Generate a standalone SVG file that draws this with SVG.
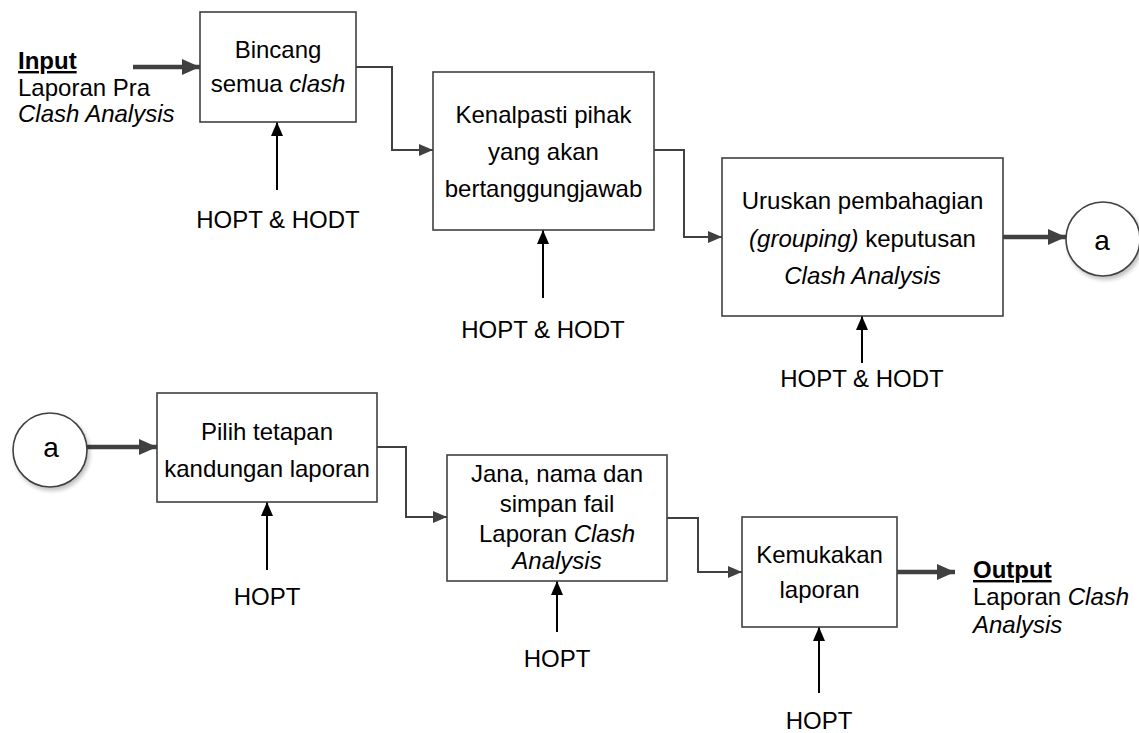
<svg xmlns="http://www.w3.org/2000/svg" width="1139" height="733" viewBox="0 0 1139 733">
  <style>
    .box { fill: #ffffff; stroke: #404040; stroke-width: 1.6; }
    .conn { fill: none; stroke: #404040; stroke-width: 2; }
    .thick { fill: none; stroke: #404040; stroke-width: 4.5; }
    .ctrl { fill: none; stroke: #000000; stroke-width: 2; }
    .lbl { font-family: "Liberation Sans", Arial, sans-serif; font-size: 24px; fill: #000000; }
    .mid { text-anchor: middle; }
    .it { font-style: italic; }
    .hd { font-weight: bold; text-decoration: underline; }
    .conn-node { fill: #ffffff; stroke: #404040; stroke-width: 1.6; }
  </style>
  <defs>
    <marker id="arrThick" markerUnits="userSpaceOnUse" markerWidth="18" markerHeight="16" refX="18" refY="8" orient="auto">
      <path d="M0,0 L18,8 L0,16 z" fill="#404040"/>
    </marker>
    <marker id="arrThin" markerUnits="userSpaceOnUse" markerWidth="14" markerHeight="12" refX="14" refY="6" orient="auto">
      <path d="M0,0 L14,6 L0,12 z" fill="#404040"/>
    </marker>
    <marker id="arrCtrl" markerUnits="userSpaceOnUse" markerWidth="14" markerHeight="12" refX="14" refY="6" orient="auto">
      <path d="M0,0 L14,6 L0,12 z" fill="#000000"/>
    </marker>
    <filter id="shadow" x="-30%" y="-30%" width="160%" height="160%">
      <feGaussianBlur in="SourceAlpha" stdDeviation="2"/>
      <feOffset dx="2" dy="3" result="b"/>
      <feComponentTransfer><feFuncA type="linear" slope="0.25"/></feComponentTransfer>
      <feMerge><feMergeNode/><feMergeNode in="SourceGraphic"/></feMerge>
    </filter>
  </defs>

  <!-- connectors -->
  <g id="connectors">
    <path class="thick" d="M133,67 H200" marker-end="url(#arrThick)"/>
    <path class="conn" d="M356,67 H392 V150 H433" marker-end="url(#arrThin)"/>
    <path class="conn" d="M654,150 H684 V237 H722" marker-end="url(#arrThin)"/>
    <path class="thick" d="M1003,237 H1066" marker-end="url(#arrThick)"/>
    <path class="thick" d="M87,447 H157" marker-end="url(#arrThick)"/>
    <path class="conn" d="M377,447 H406 V517 H447" marker-end="url(#arrThin)"/>
    <path class="conn" d="M667,518 H698 V572 H742" marker-end="url(#arrThin)"/>
    <path class="thick" d="M897,572 H955" marker-end="url(#arrThick)"/>
    <!-- controls from below -->
    <path class="ctrl" d="M277,190 V122" marker-end="url(#arrCtrl)"/>
    <path class="ctrl" d="M543,298 V230" marker-end="url(#arrCtrl)"/>
    <path class="ctrl" d="M862,363 V316" marker-end="url(#arrCtrl)"/>
    <path class="ctrl" d="M267,570 V502" marker-end="url(#arrCtrl)"/>
    <path class="ctrl" d="M557,632 V581" marker-end="url(#arrCtrl)"/>
    <path class="ctrl" d="M819,693 V627" marker-end="url(#arrCtrl)"/>
  </g>

  <!-- input label -->
  <g id="input">
    <text class="lbl hd" x="18" y="69">Input</text>
    <text class="lbl" x="18" y="96">Laporan Pra</text>
    <text class="lbl it" x="18" y="122">Clash Analysis</text>
  </g>

  <g id="bincang">
    <rect class="box" x="200" y="12" width="156" height="110"/>
    <text class="lbl mid" x="278" y="58">Bincang</text>
    <text class="lbl mid" x="278" y="92">semua <tspan class="it">clash</tspan></text>
    <text class="lbl mid" x="278" y="228">HOPT &amp; HODT</text>
  </g>

  <g id="kenalpasti">
    <rect class="box" x="433" y="72" width="221" height="158"/>
    <text class="lbl mid" x="543.5" y="123">Kenalpasti pihak</text>
    <text class="lbl mid" x="543.5" y="160">yang akan</text>
    <text class="lbl mid" x="543.5" y="197">bertanggungjawab</text>
    <text class="lbl mid" x="543" y="338">HOPT &amp; HODT</text>
  </g>

  <g id="uruskan">
    <rect class="box" x="722" y="158" width="281" height="158"/>
    <text class="lbl mid" x="862.5" y="209">Uruskan pembahagian</text>
    <text class="lbl mid" x="862.5" y="247"><tspan class="it">(grouping)</tspan> keputusan</text>
    <text class="lbl mid it" x="862.5" y="284">Clash Analysis</text>
    <text class="lbl mid" x="862" y="387">HOPT &amp; HODT</text>
  </g>

  <g id="conn-a-out">
    <circle class="conn-node" cx="1103" cy="239" r="37" filter="url(#shadow)"/>
    <text class="lbl mid" x="1102" y="250" style="font-size:28px">a</text>
  </g>

  <g id="conn-a-in">
    <circle class="conn-node" cx="50" cy="450" r="37" filter="url(#shadow)"/>
    <text class="lbl mid" x="51" y="457" style="font-size:28px">a</text>
  </g>

  <g id="pilih">
    <rect class="box" x="157" y="393" width="220" height="109"/>
    <text class="lbl mid" x="267" y="440">Pilih tetapan</text>
    <text class="lbl mid" x="267" y="477">kandungan laporan</text>
    <text class="lbl mid" x="267" y="605">HOPT</text>
  </g>

  <g id="jana">
    <rect class="box" x="447" y="455" width="220" height="126"/>
    <text class="lbl mid" x="557" y="482">Jana, nama dan</text>
    <text class="lbl mid" x="557" y="512">simpan fail</text>
    <text class="lbl mid" x="557" y="542">Laporan <tspan class="it">Clash</tspan></text>
    <text class="lbl mid it" x="557" y="569">Analysis</text>
    <text class="lbl mid" x="557" y="667">HOPT</text>
  </g>

  <g id="kemukakan">
    <rect class="box" x="742" y="517" width="155" height="110"/>
    <text class="lbl mid" x="819.5" y="563">Kemukakan</text>
    <text class="lbl mid" x="819.5" y="598">laporan</text>
    <text class="lbl mid" x="819" y="729">HOPT</text>
  </g>

  <!-- output label -->
  <g id="output">
    <text class="lbl hd" x="973" y="578">Output</text>
    <text class="lbl" x="973" y="605">Laporan <tspan class="it">Clash</tspan></text>
    <text class="lbl it" x="973" y="633">Analysis</text>
  </g>
</svg>
